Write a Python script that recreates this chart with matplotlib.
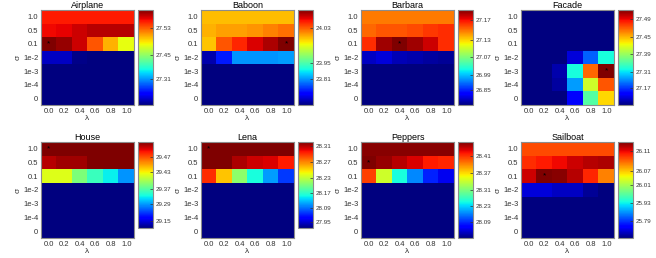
import numpy as np
import matplotlib.pyplot as plt

plt.rcParams['font.family'] = ['Liberation Sans', 'DejaVu Sans']

lambdas = ['0.0', '0.2', '0.4', '0.6', '0.8', '1.0']
sigmas = ['1.0', '0.5', '0.1', '1e-2', '1e-3', '1e-4', '0']
names = ['Airplane', 'Baboon', 'Barbara', 'Facade',
         'House', 'Lena', 'Peppers', 'Sailboat']

# colour level of every cell (0 = bottom of the colour bar, 1 = top), rows = sigma
airplane = [[0.88, 0.88, 0.88, 0.88, 0.88, 0.88],
            [0.90, 0.91, 0.93, 0.95, 0.95, 0.95],
            [1.00, 0.98, 0.93, 0.82, 0.72, 0.63],
            [0.06, 0.06, 0.01, 0.00, 0.00, 0.00],
            [0.00, 0.00, 0.00, 0.00, 0.00, 0.00],
            [0.00, 0.00, 0.00, 0.00, 0.00, 0.00],
            [0.00, 0.00, 0.00, 0.00, 0.00, 0.00]]
baboon = [[0.71, 0.71, 0.71, 0.71, 0.71, 0.71],
          [0.72, 0.74, 0.74, 0.75, 0.77, 0.79],
          [0.70, 0.82, 0.87, 0.92, 0.96, 1.00],
          [0.04, 0.15, 0.27, 0.27, 0.27, 0.28],
          [0.00, 0.00, 0.00, 0.00, 0.00, 0.00],
          [0.00, 0.00, 0.00, 0.00, 0.00, 0.00],
          [0.00, 0.00, 0.00, 0.00, 0.00, 0.00]]
barbara = [[0.78, 0.78, 0.78, 0.78, 0.78, 0.78],
           [0.80, 0.82, 0.82, 0.83, 0.85, 0.86],
           [0.86, 0.97, 1.00, 0.97, 0.93, 0.86],
           [0.06, 0.08, 0.05, 0.04, 0.03, 0.02],
           [0.00, 0.00, 0.00, 0.00, 0.00, 0.00],
           [0.00, 0.00, 0.00, 0.00, 0.00, 0.00],
           [0.00, 0.00, 0.00, 0.00, 0.00, 0.00]]
facade = [[0.00, 0.00, 0.00, 0.00, 0.00, 0.00],
          [0.00, 0.00, 0.00, 0.00, 0.00, 0.00],
          [0.00, 0.00, 0.00, 0.00, 0.00, 0.00],
          [0.00, 0.00, 0.00, 0.08, 0.22, 0.38],
          [0.00, 0.00, 0.04, 0.38, 0.80, 1.00],
          [0.00, 0.00, 0.03, 0.28, 0.60, 0.82],
          [0.00, 0.00, 0.00, 0.12, 0.45, 0.68]]
house = [[1.00, 1.00, 1.00, 1.00, 1.00, 1.00],
         [0.95, 0.97, 0.97, 1.00, 1.00, 1.00],
         [0.62, 0.62, 0.50, 0.42, 0.36, 0.27],
         [0.00, 0.00, 0.00, 0.00, 0.00, 0.00],
         [0.00, 0.00, 0.00, 0.00, 0.00, 0.00],
         [0.00, 0.00, 0.00, 0.00, 0.00, 0.00],
         [0.00, 0.00, 0.00, 0.00, 0.00, 0.00]]
lena = [[1.00, 1.00, 1.00, 1.00, 1.00, 1.00],
        [1.00, 1.00, 0.96, 0.93, 0.92, 0.88],
        [0.86, 0.70, 0.52, 0.38, 0.28, 0.18],
        [0.00, 0.00, 0.00, 0.00, 0.00, 0.00],
        [0.00, 0.00, 0.00, 0.00, 0.00, 0.00],
        [0.00, 0.00, 0.00, 0.00, 0.00, 0.00],
        [0.00, 0.00, 0.00, 0.00, 0.00, 0.00]]
peppers = [[0.99, 0.99, 0.99, 0.99, 0.99, 0.99],
           [1.00, 0.98, 0.95, 0.92, 0.88, 0.87],
           [0.84, 0.60, 0.38, 0.26, 0.16, 0.10],
           [0.00, 0.00, 0.00, 0.00, 0.00, 0.00],
           [0.00, 0.00, 0.00, 0.00, 0.00, 0.00],
           [0.00, 0.00, 0.00, 0.00, 0.00, 0.00],
           [0.00, 0.00, 0.00, 0.00, 0.00, 0.00]]
sailboat = [[0.83, 0.83, 0.83, 0.83, 0.83, 0.83],
            [0.86, 0.88, 0.90, 0.93, 0.95, 0.96],
            [0.93, 1.00, 0.99, 0.95, 0.87, 0.77],
            [0.08, 0.08, 0.06, 0.06, 0.02, 0.00],
            [0.00, 0.00, 0.00, 0.00, 0.00, 0.00],
            [0.00, 0.00, 0.00, 0.00, 0.00, 0.00],
            [0.00, 0.00, 0.00, 0.00, 0.00, 0.00]]
grids = [airplane, baboon, barbara, facade, house, lena, peppers, sailboat]

# PSNR labels on each colour bar, with the level where they sit
cb_labels = [['27.31', '27.45', '27.53'],
             ['23.81', '23.95', '24.03'],
             ['26.85', '26.99', '27.07', '27.13', '27.17'],
             ['27.17', '27.31', '27.39', '27.45', '27.49'],
             ['29.15', '29.29', '29.37', '29.43', '29.47'],
             ['27.95', '28.09', '28.17', '28.23', '28.27', '28.31'],
             ['28.09', '28.23', '28.31', '28.37', '28.41'],
             ['25.79', '25.93', '26.01', '26.07', '26.11']]
cb_levels = [[0.27, 0.53, 0.81],
             [0.27, 0.44, 0.81],
             [0.16, 0.32, 0.51, 0.68, 0.90],
             [0.18, 0.35, 0.54, 0.72, 0.91],
             [0.08, 0.28, 0.45, 0.65, 0.83],
             [0.07, 0.23, 0.41, 0.58, 0.77, 0.95],
             [0.17, 0.33, 0.50, 0.68, 0.85],
             [0.18, 0.36, 0.55, 0.70, 0.91]]

W, H = 656, 258
fig = plt.figure(figsize=(W / 100, H / 100), dpi=100)

col_x = [41, 201, 361, 521]
cbar_x = [138, 298, 458, 618]
row_y = [(10, 105), (142, 238)]
cbar_y = [(10, 105), (10, 105), (10, 105), (10, 105),
          (142, 228), (142, 228), (142, 238), (142, 238)]

edge = '#8c8c8c'
for k, name in enumerate(names):
    r, c = divmod(k, 4)
    y0, y1 = row_y[r]
    ax = fig.add_axes([col_x[c] / W, 1 - y1 / H, 93 / W, (y1 - y0) / H])
    data = np.array(grids[k])
    im = ax.imshow(data, cmap='jet', vmin=0, vmax=1, aspect='auto',
                   interpolation='nearest')
    bi, bj = np.unravel_index(np.argmax(data), data.shape)
    ax.text(bj, bi, '*', ha='center', va='center', fontsize=6, color='black')
    ax.set_xticks(range(len(lambdas)))
    ax.set_xticklabels(lambdas)
    ax.set_yticks(range(len(sigmas)))
    ax.set_yticklabels(sigmas)
    ax.tick_params(length=0, labelsize=5.5, pad=2, colors='#333333')
    ax.set_xlabel('λ', fontsize=6, labelpad=0, color='#333333')
    ax.set_ylabel('σ', fontsize=6, labelpad=1, color='#333333')
    ax.set_title(name, fontsize=6.5, pad=1.5)
    for s in ax.spines.values():
        s.set_color(edge)
        s.set_linewidth(0.8)

    cy0, cy1 = cbar_y[k]
    cax = fig.add_axes([cbar_x[c] / W, 1 - cy1 / H, 15 / W, (cy1 - cy0) / H])
    cb = fig.colorbar(im, cax=cax)
    cb.set_ticks(cb_levels[k])
    cb.set_ticklabels(cb_labels[k])
    cax.tick_params(labelsize=4.5, length=2, direction='in', width=0.5,
                    pad=2, colors='#333333')
    cb.outline.set_edgecolor(edge)
    cb.outline.set_linewidth(0.8)

fig.savefig('out.png', dpi=100)
